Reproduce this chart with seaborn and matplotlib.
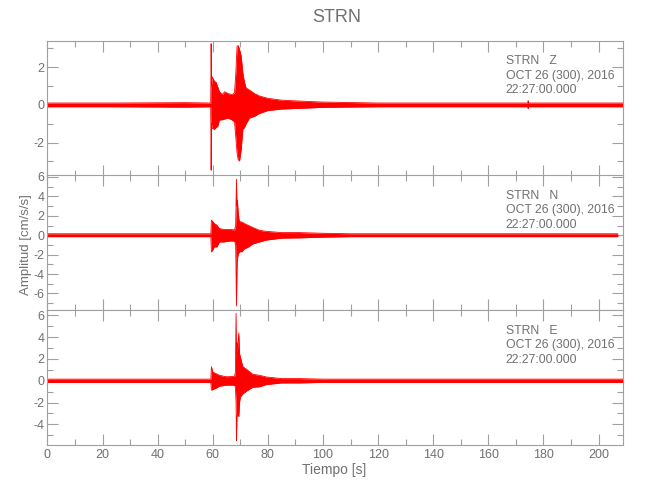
import matplotlib
matplotlib.use("Agg")
import matplotlib.pyplot as plt
import seaborn as sns
from matplotlib.ticker import MultipleLocator

# envelope (upper / lower) of each trace, cm/s/s
t_z  = [0, 25, 50, 59.25, 59.4, 59.55, 59.8, 60.6, 61.2, 61.8, 62.4, 63.5, 64.3, 65.5, 67.0, 67.9, 68.4, 68.8,
        69.2, 69.7, 70.3, 70.9, 71.5, 72.1, 73.3, 75.2, 77.0, 80.0, 85.0, 92.0, 100, 120, 174.3, 174.45, 174.6, 209]
hi_z = [0.1, 0.1, 0.12, 0.1, 3.25, 1.0, 1.49, 1.25, 1.2, 0.96, 0.7, 0.55, 0.7, 0.6, 0.55, 0.65, 1.8, 3.1,
        3.16, 2.95, 2.6, 1.7, 1.2, 0.9, 0.79, 0.6, 0.47, 0.35, 0.25, 0.2, 0.15, 0.1, 0.1, 0.22, 0.1, 0.1]
lo_z = [-0.1, -0.1, -0.12, -0.1, -3.47, -1.0, -1.23, -1.3, -1.2, -1.14, -0.8, -0.79, -0.75, -0.7, -0.8, -0.9, -1.8, -2.53,
        -2.9, -2.98, -2.4, -1.3, -1.2, -1.0, -0.7, -0.6, -0.45, -0.3, -0.22, -0.18, -0.13, -0.1, -0.1, -0.2, -0.1, -0.1]

t_n  = [0, 30, 59.3, 59.5, 60.0, 60.6, 61.5, 62.4, 64.0, 66.0, 67.9, 68.3, 68.6, 68.75, 68.9,
        69.2, 69.5, 69.8, 70.5, 71.5, 73.0, 74.5, 77.0, 79.4, 85.0, 91.5, 100, 110, 207]
hi_n = [0.15, 0.15, 0.15, 1.55, 1.4, 1.2, 1.03, 0.69, 0.6, 0.6, 0.55, 1.0, 5.77, 3.0, 3.6,
        2.5, 1.6, 1.4, 1.37, 1.2, 1.0, 0.8, 0.5, 0.4, 0.27, 0.27, 0.2, 0.15, 0.15]
lo_n = [-0.15, -0.15, -0.15, -1.72, -1.5, -1.2, -1.2, -0.69, -0.69, -0.6, -0.6, -1.0, -7.29, -4.0, -2.5,
        -2.0, -1.8, -1.7, -1.7, -1.4, -1.2, -0.9, -0.69, -0.5, -0.3, -0.27, -0.2, -0.15, -0.15]

t_e  = [0, 30, 59.3, 59.5, 60.0, 61.0, 62.4, 65.0, 67.9, 68.2, 68.45, 68.6, 68.75,
        69.0, 69.45, 69.7, 70.0, 70.9, 72.5, 74.5, 77.0, 79.4, 85.0, 91.5, 100, 209]
hi_e = [0.15, 0.15, 0.15, 1.29, 0.8, 0.68, 0.5, 0.37, 0.4, 0.8, 6.2, 2.5, 3.5,
        3.0, 4.4, 2.5, 2.2, 1.3, 1.0, 0.6, 0.5, 0.35, 0.2, 0.2, 0.15, 0.15]
lo_e = [-0.15, -0.15, -0.15, -0.86, -0.8, -0.7, -0.5, -0.4, -0.4, -0.6, -2.0, -5.5, -3.3,
        -3.0, -3.3, -2.0, -1.5, -1.2, -0.9, -0.6, -0.55, -0.35, -0.2, -0.2, -0.15, -0.15]

components = ["Z", "N", "E"]
ylims = [(-3.75, 3.42), (-7.7, 6.2), (-5.9, 6.5)]
header = ["OCT 26 (300), 2016", "22:27:00.000"]

sns.set_theme(style="ticks")
plt.rcParams["font.family"] = ["Liberation Sans Narrow", "Liberation Sans", "DejaVu Sans"]
plt.rcParams["axes.unicode_minus"] = False
TXT = "#707070"
FRAME = "#a0a0a0"

fig = plt.figure(figsize=(6.5, 5), dpi=100)
boxes = [0.649, 0.380, 0.110]
traces = [(t_z, hi_z, lo_z), (t_n, hi_n, lo_n), (t_e, hi_e, lo_e)]
axes = []
for i, (comp, (t, hi, lo)) in enumerate(zip(components, traces)):
    ax = fig.add_axes([0.073, boxes[i], 0.886, 0.270], sharex=axes[0] if axes else None)
    ax.fill_between(t, lo, hi, color="red", lw=0)
    sns.lineplot(x=t, y=hi, ax=ax, color="red", lw=0.6, estimator=None, sort=False)
    sns.lineplot(x=t, y=lo, ax=ax, color="red", lw=0.6, estimator=None, sort=False)
    ax.set_xlim(0, 209)
    ax.set_ylim(*ylims[i])
    ax.xaxis.set_major_locator(MultipleLocator(20))
    ax.xaxis.set_minor_locator(MultipleLocator(10))
    ax.yaxis.set_major_locator(MultipleLocator(2))
    ax.yaxis.set_minor_locator(MultipleLocator(1))
    ax.tick_params(which="both", direction="in", top=True, right=True, color=FRAME,
                   labelcolor=TXT, labelsize=9, width=0.8)
    ax.tick_params(which="major", length=8, pad=2)
    ax.tick_params(which="minor", length=4)
    ax.tick_params(axis="x", pad=3)
    for s in ax.spines.values():
        s.set_color(FRAME)
        s.set_linewidth(0.8)
    if i < 2:
        ax.tick_params(axis="x", labelbottom=False)
    ax.set_ylabel("")
    lines = [f"STRN   {comp}"] + header
    for k, line in enumerate(lines):
        ax.text(0.796, 0.847 - 0.108 * k, line, transform=ax.transAxes, color=TXT,
                fontsize=8.8, va="center", ha="left")
    axes.append(ax)

fig.text(0.518, 0.966, "STRN", ha="center", va="center", color=TXT, fontsize=13)
fig.text(0.514, 0.06, "Tiempo [s]", ha="center", va="center", color=TXT, fontsize=10)
fig.text(0.040, 0.51, "Amplitud [cm/s/s]", ha="center", va="center", rotation=90,
         color=TXT, fontsize=9.5)

fig.savefig("out.png", dpi=100)
